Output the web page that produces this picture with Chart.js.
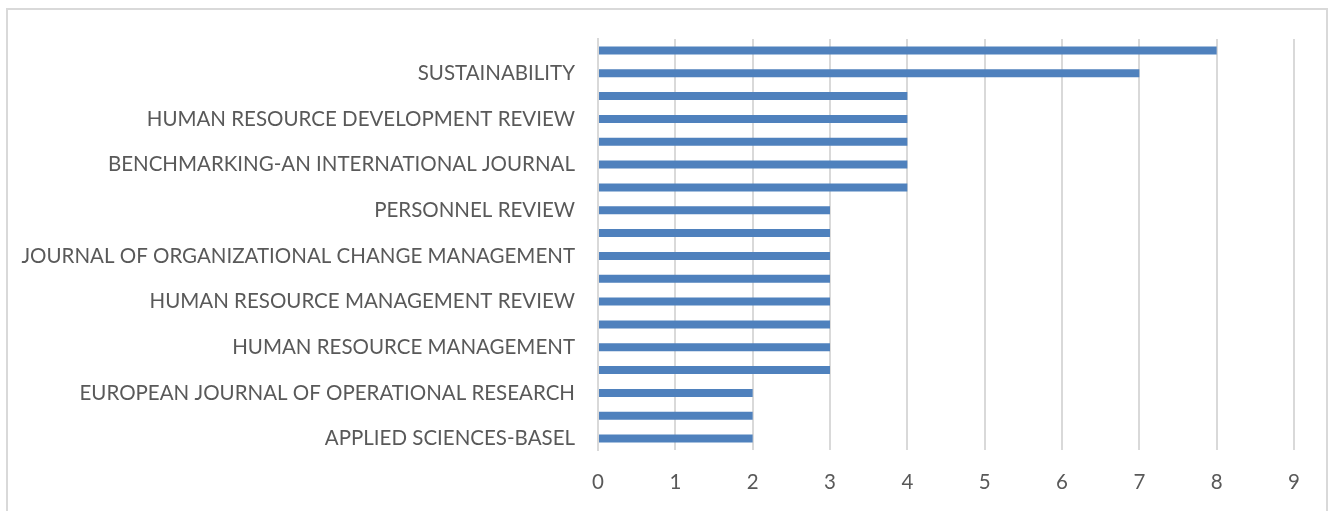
<!DOCTYPE html>
<html>
<head>
<meta charset="utf-8">
<script src="https://cdn.jsdelivr.net/npm/chart.js@4.4.1/dist/chart.umd.min.js"></script>
<style>
  html, body { margin: 0; padding: 0; background: #fff; }
  .frame {
    position: absolute; left: 6px; top: 8px; width: 1322px; height: 520px;
    border: 2px solid #d9d9d9; box-sizing: border-box;
  }
  .chart-container { position: absolute; left: 0; top: 0; width: 1341px; height: 511px; }
</style>
</head>
<body>
<div class="frame"></div>
<div class="chart-container">
  <canvas id="myChart"></canvas>
</div>
<script>
// top to bottom; only every other category label is printed in the source
const journals = [
  '',
  'SUSTAINABILITY',
  '',
  'HUMAN RESOURCE DEVELOPMENT REVIEW',
  '',
  'BENCHMARKING-AN INTERNATIONAL JOURNAL',
  '',
  'PERSONNEL REVIEW',
  '',
  'JOURNAL OF ORGANIZATIONAL CHANGE MANAGEMENT',
  '',
  'HUMAN RESOURCE MANAGEMENT REVIEW',
  '',
  'HUMAN RESOURCE MANAGEMENT',
  '',
  'EUROPEAN JOURNAL OF OPERATIONAL RESEARCH',
  '',
  'APPLIED SCIENCES-BASEL',
];
const counts = [8, 7, 4, 4, 4, 4, 4, 3, 3, 3, 3, 3, 3, 3, 3, 2, 2, 2];
const xTicks = [0, 1, 2, 3, 4, 5, 6, 7, 8, 9];

const gridColor = '#d9d9d9';
const textColor = '#595959';
const font = { family: 'Lato', size: 20.5 };

const ctx = document.getElementById('myChart').getContext('2d');
new Chart(ctx, {
  type: 'bar',
  data: {
    labels: journals,
    datasets: [
      {
        data: counts,
        backgroundColor: '#4f81bd',
        barPercentage: 0.7,
        categoryPercentage: 0.5,
      },
    ],
  },
  options: {
    indexAxis: 'y',
    responsive: true,
    maintainAspectRatio: false,
    animation: false,
    layout: { padding: { top: 39, right: 47, left: 0, bottom: 0 } },
    plugins: { legend: { display: false }, tooltip: { enabled: false } },
    scales: {
      x: {
        min: xTicks[0],
        max: xTicks[xTicks.length - 1],
        afterBuildTicks: (scale) => {
          scale.ticks = xTicks.map((v) => ({ value: v }));
        },
        afterFit: (scale) => { scale.height = 61; },
        grid: { color: gridColor, lineWidth: 2, drawTicks: false },
        border: { display: false },
        ticks: { color: textColor, font: font, padding: 20 },
      },
      y: {
        afterFit: (scale) => { scale.width = 598; },
        grid: { display: false },
        border: { display: true, color: gridColor, width: 2 },
        ticks: { color: textColor, font: font, padding: 15, autoSkip: false },
      },
    },
  },
});
</script>
</body>
</html>
